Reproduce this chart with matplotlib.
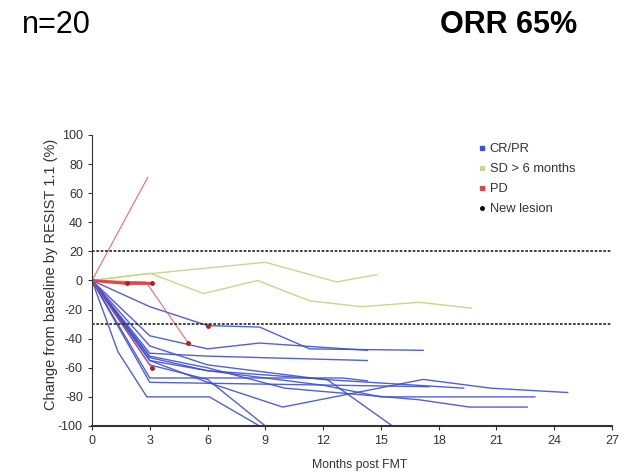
import matplotlib
matplotlib.use("Agg")
import matplotlib.pyplot as plt
from matplotlib.lines import Line2D

plt.rcParams['font.family'] = ['Liberation Sans', 'DejaVu Sans']
plt.rcParams['axes.unicode_minus'] = False

# Tumour burden change per patient (months post FMT, % change by RECIST 1.1)
cr_pr = [
    ([0, 3, 6, 8.7, 11.3, 17.2], [0, -18, -31, -32, -47, -48]),
    ([0, 3, 6, 8.7, 14.3], [0, -38, -47, -43, -48]),
    ([0, 3, 6, 14.3], [0, -50, -52, -55]),
    ([0, 3, 6, 9.9, 17.2, 20.7, 24.7], [0, -55, -70, -87, -68, -74, -77]),
    ([0, 3, 6, 12, 15, 23], [0, -55, -62, -72, -80, -80]),
    ([0, 3, 6, 10, 17, 19.6, 22.6], [0, -52, -60, -74, -82, -87, -87]),
    ([0, 3, 6, 12, 19.3], [0, -45, -58, -68, -74]),
    ([0, 3, 6, 12.2, 15.6], [0, -53, -62, -68, -100]),
    ([0, 3, 6, 9, 24], [0, -58, -68, -100, -100]),
    ([0, 1.35, 2.85, 6.1, 8.7], [0, -49, -80, -80, -100]),
    ([0, 3, 13, 14.3], [0, -67, -67, -69]),
    ([0, 3, 17.5], [0, -70, -73]),
]
sd = [
    ([0, 2.5, 9, 12.7, 14.8], [0, 4, 12.5, -1, 4]),
    ([0, 3, 5.8, 8.6, 11.3, 14, 17, 19.7], [0, 5, -9, 0, -14, -18, -15, -19]),
]
pd_lines = [
    ([0, 2.9], [0, 71]),
    ([0, 2.8, 5.0], [0, -1, -43]),
    ([0, 3.1], [0, -60]),
]
pd_thick = ([0, 1.8, 3.1], [0, -2, -2])
new_lesion = [(6, -31), (1.8, -2), (3.1, -2), (5.0, -43), (3.1, -60)]

blue = '#3d4fd6'
green = '#c9d68c'
red = '#e04848'
ink = '#333333'

fig = plt.figure(figsize=(6.41, 4.72), dpi=100)
ax = fig.add_axes([0.1435, 0.0975, 0.8112, 0.6165])

for x, y in cr_pr:
    ax.plot(x, y, color=blue, lw=1.0, alpha=0.9)
for x, y in sd:
    ax.plot(x, y, color=green, lw=1.0)
for x, y in pd_lines:
    ax.plot(x, y, color=red, lw=0.8, alpha=0.8)
ax.plot(pd_thick[0], pd_thick[1], color=red, lw=2.2)

ax.plot([p[0] for p in new_lesion], [p[1] for p in new_lesion], ls='none',
        marker='o', ms=2.5, color='#b02020')

for yref in (20, -30):
    ax.plot([0, 27], [yref, yref], color='#222222', lw=1.2, ls=(0, (1.6, 1.0)))

ax.set_xlim(0, 27)
ax.set_ylim(-100, 100)
ax.set_xticks(range(0, 28, 3))
ax.set_yticks(range(-100, 101, 20))
ax.spines['top'].set_visible(False)
ax.spines['right'].set_visible(False)
ax.spines['left'].set_color(ink)
ax.spines['bottom'].set_color(ink)
ax.spines['bottom'].set_linewidth(1.5)
ax.tick_params(labelsize=9, length=3, color=ink, labelcolor=ink)
ax.set_xlabel('Months post FMT', fontsize=8.8, color=ink, labelpad=9)
ax.xaxis.set_label_coords(0.515, -0.115)
ax.set_ylabel('Change from baseline by RESIST 1.1 (%)', fontsize=10.5,
              color=ink)
ax.yaxis.set_label_coords(-0.066, 0.52)

handles = [
    Line2D([], [], ls='none', marker='s', ms=3.5, color=blue),
    Line2D([], [], ls='none', marker='s', ms=3.5, color=green),
    Line2D([], [], ls='none', marker='s', ms=3.5, color=red),
    Line2D([], [], ls='none', marker='o', ms=2.5, color='black'),
]
ax.legend(handles, ['CR/PR', 'SD > 6 months', 'PD', 'New lesion'],
          loc='upper left', bbox_to_anchor=(0.735, 0.99), frameon=False,
          fontsize=9.3, handlelength=0.4, handletextpad=0.4,
          labelspacing=0.62, borderaxespad=0, labelcolor=ink)

fig.text(0.034, 0.947, 'n=20', fontsize=22, va='center', ha='left')
fig.text(0.686, 0.947, 'ORR 65%', fontsize=22, fontweight='bold',
         va='center', ha='left')

fig.savefig('out.png', dpi=100)
